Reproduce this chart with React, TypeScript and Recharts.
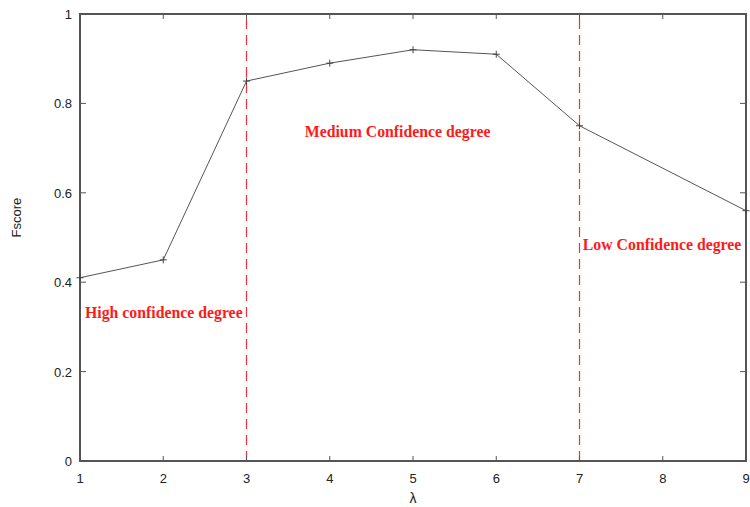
import React from 'react';
import { LineChart, Line, XAxis, YAxis, ReferenceLine, ReferenceArea, Label } from 'recharts';

const lambdas = [1, 2, 3, 4, 5, 6, 7, 9];
const fscores = [0.41, 0.45, 0.85, 0.89, 0.92, 0.91, 0.75, 0.56];
const xTicks = [1, 2, 3, 4, 5, 6, 7, 8, 9];
const yTicks = [0, 0.2, 0.4, 0.6, 0.8, 1];
const boundaries = [3, 7];
const regionLabels = [
  { x: 1.06, y: 0.32, text: 'High confidence degree' },
  { x: 3.7, y: 0.725, text: 'Medium Confidence degree' },
  { x: 7.04, y: 0.473, text: 'Low Confidence degree' },
];

const data = lambdas.map((l, i) => ({ lambda: l, fscore: fscores[i] }));

const AXIS = '#555';
const FONT = '"Liberation Sans", Arial, sans-serif';

const BottomTick = (p: any) => (
  <g>
    <line x1={p.x} y1={p.y} x2={p.x} y2={p.y - 5} stroke={AXIS} />
    <text x={p.x} y={p.y + 22} textAnchor="middle" fontSize={13} fontFamily={FONT} fill="#222">
      {p.payload.value}
    </text>
  </g>
);
const TopTick = (p: any) => (
  <line x1={p.x} y1={p.y} x2={p.x} y2={p.y + 5} stroke={AXIS} />
);
const LeftTick = (p: any) => (
  <g>
    <line x1={p.x} y1={p.y} x2={p.x + 6} y2={p.y} stroke={AXIS} />
    <text x={p.x - 8} y={p.y + 5} textAnchor="end" fontSize={13} fontFamily={FONT} fill="#222">
      {p.payload.value}
    </text>
  </g>
);
const RightTick = (p: any) => (
  <line x1={p.x} y1={p.y} x2={p.x - 6} y2={p.y} stroke={AXIS} />
);

const PlusDot = (p: any) => {
  if (p.cx == null || p.cy == null) return null;
  return (
    <g>
      <line x1={p.cx - 3.5} y1={p.cy} x2={p.cx + 3.5} y2={p.cy} stroke="#444" />
      <line x1={p.cx} y1={p.cy - 3.5} x2={p.cx} y2={p.cy + 3.5} stroke="#444" />
    </g>
  );
};

const FrameShape = (p: any) => (
  <rect x={p.x} y={p.y} width={p.width} height={p.height} fill="none" stroke={AXIS} strokeWidth={2} />
);

export default function App() {
  return (
    <div style={{ position: 'absolute', left: 0, top: 0, background: '#fff' }}>
      <LineChart width={750} height={507} data={data} margin={{ top: 13, right: 3, bottom: 0, left: 0 }}>
        <XAxis
          xAxisId="b"
          dataKey="lambda"
          type="number"
          domain={[1, 9]}
          ticks={xTicks}
          tickSize={0}
          tickMargin={0}
          tick={<BottomTick />}
          stroke={AXIS}
          strokeWidth={2}
          height={46}
          interval={0}
        >
          <Label value="λ" position="insideBottom" offset={4} fontSize={14} fontFamily={FONT} fill="#222" />
        </XAxis>
        <XAxis
          xAxisId="t"
          orientation="top"
          dataKey="lambda"
          type="number"
          domain={[1, 9]}
          ticks={xTicks}
          tickSize={0}
          tickMargin={0}
          tick={<TopTick />}
          axisLine={false}
          height={1}
          interval={0}
        />
        <YAxis
          yAxisId="l"
          type="number"
          domain={[0, 1]}
          ticks={yTicks}
          tickSize={0}
          tickMargin={0}
          tick={<LeftTick />}
          stroke={AXIS}
          strokeWidth={2}
          width={80}
          interval={0}
        >
          <Label value="Fscore" angle={-90} position="insideLeft" offset={16} fontSize={13} fontFamily={FONT} fill="#222" />
        </YAxis>
        <YAxis
          yAxisId="r"
          orientation="right"
          type="number"
          domain={[0, 1]}
          ticks={yTicks}
          tickSize={0}
          tickMargin={0}
          tick={<RightTick />}
          axisLine={false}
          width={1}
          interval={0}
        />
        <ReferenceArea
          xAxisId="b"
          yAxisId="l"
          x1={1}
          x2={9}
          y1={0}
          y2={1}
          ifOverflow="visible"
          shape={<FrameShape />}
        />
        {boundaries.map((b) => (
          <ReferenceLine
            key={b}
            xAxisId="b"
            yAxisId="l"
            x={b}
            stroke="#f0303a"
            strokeWidth={1.2}
            strokeDasharray="10 6"
          />
        ))}
        <Line
          xAxisId="t"
          yAxisId="r"
          dataKey="fscore"
          stroke="none"
          dot={false}
          activeDot={false}
          legendType="none"
          isAnimationActive={false}
        />
        <Line
          xAxisId="b"
          yAxisId="l"
          dataKey="fscore"
          stroke="#555"
          strokeWidth={1}
          dot={<PlusDot />}
          activeDot={false}
          isAnimationActive={false}
        />
        {regionLabels.map((r) => (
          <ReferenceLine
            key={r.text}
            xAxisId="b"
            yAxisId="l"
            segment={[{ x: r.x, y: r.y }, { x: r.x, y: r.y }]}
            stroke="none"
            label={(props: any) => {
              const vb = props.viewBox || {};
              return (
                <text
                  x={vb.x}
                  y={vb.y}
                  fill="#ff1a1a"
                  fontSize={15.8}
                  fontWeight="bold"
                  fontFamily='"Liberation Serif", "Times New Roman", serif'
                >
                  {r.text}
                </text>
              );
            }}
          />
        ))}
      </LineChart>
    </div>
  );
}
